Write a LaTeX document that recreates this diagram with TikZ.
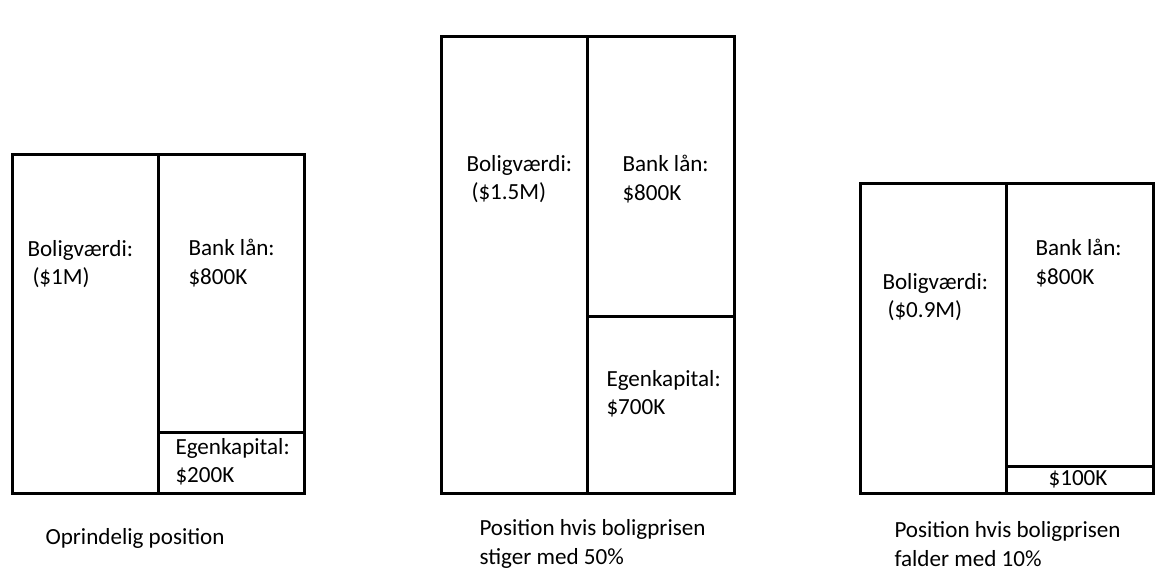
\documentclass[tikz,border=0pt]{standalone}
\usepackage{fontspec}
\setmainfont{Carlito}
\begin{document}
\begin{tikzpicture}[x=1pt, y=-1pt, line width=3pt,
  every node/.style={font=\fontsize{23.1}{28.5}\selectfont, inner sep=0pt, anchor=west, align=left}]
  \useasboundingbox (0,0) rectangle (1173,577);

  % Oprindelig position
  \draw (12,155) rectangle (304,493);
  \draw (158,155) -- (158,493);
  \draw (158,432) -- (304,432);
  \node (bolig1) at (26,264) {Boligværdi:\\\hspace*{5pt}(\$1M)};
  \node (laan1) at (187,263) {Bank lån:\\\$800K};
  \node (egen1) at (174,462) {Egenkapital:\\\$200K};
  \node (tekst1) at (44,538) {Oprindelig position};

  % Boligprisen stiger
  \draw (441,37) rectangle (734,493);
  \draw (587,37) -- (587,493);
  \draw (587,317) -- (734,317);
  \node (bolig2) at (465,179) {Boligværdi:\\\hspace*{5pt}(\$1.5M)};
  \node (laan2) at (621,179) {Bank lån:\\\$800K};
  \node (egen2) at (605,394) {Egenkapital:\\\$700K};
  \node (tekst2) at (478,544) {Position hvis boligprisen\\stiger med 50\%};

  % Boligprisen falder
  \draw (860,184) rectangle (1153,493);
  \draw (1006,184) -- (1006,493);
  \draw (1006,466) -- (1153,466);
  \node (bolig3) at (881,297) {Boligværdi:\\\hspace*{5pt}(\$0.9M)};
  \node (laan3) at (1034,263) {Bank lån:\\\$800K};
  \node[anchor=center] (egen3) at (1078,479) {\$100K};
  \node (tekst3) at (893,544) {Position hvis boligprisen\\falder med 10\%};
\end{tikzpicture}
\end{document}
